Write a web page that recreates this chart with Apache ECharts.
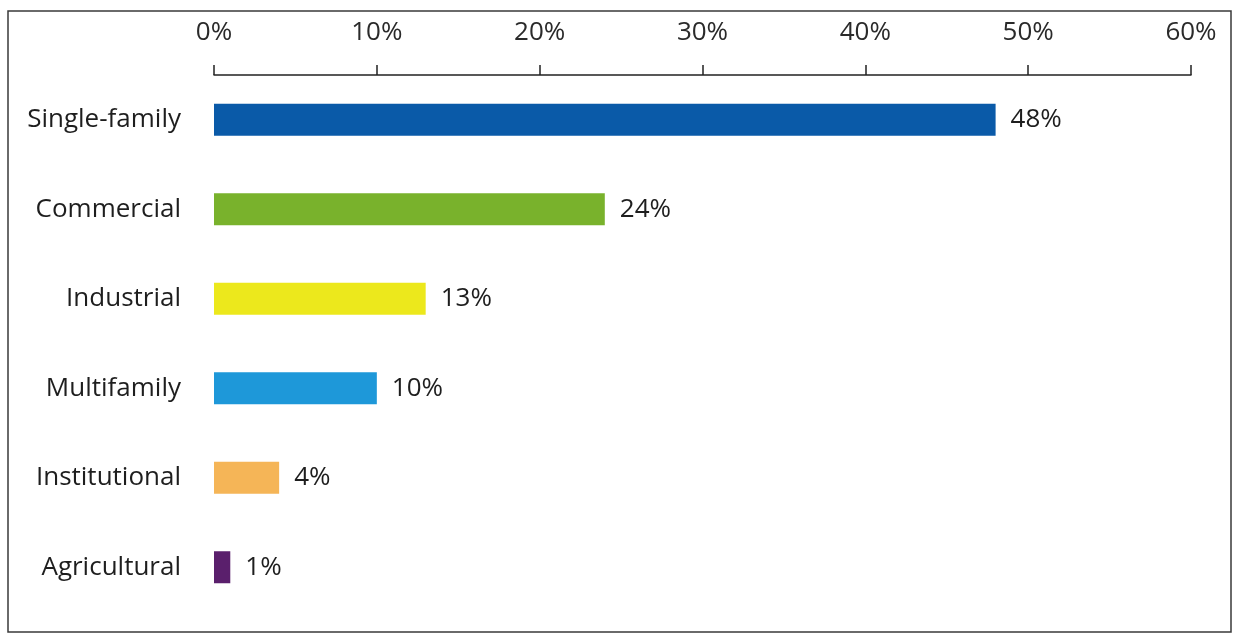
<!DOCTYPE html>
<html>
<head>
<meta charset="utf-8">
<style>
  html, body { margin: 0; padding: 0; background: #fff; }
  #chart { width: 1233px; height: 636px; }
</style>
<script src="https://cdn.jsdelivr.net/npm/echarts@6/dist/echarts.min.js"></script>
</head>
<body>
<div id="chart"></div>
<script>
// Share of land use by sector (percent)
const categories = ['Single-family', 'Commercial', 'Industrial', 'Multifamily', 'Institutional', 'Agricultural'];
const shares = [48, 24, 13, 10, 4, 1];
const barColors = ['#0a5aa8', '#79b22c', '#ece81c', '#1e98d9', '#f5b557', '#5a1f6c'];
const tickValues = [0, 10, 20, 30, 40, 50, 60];

const chart = echarts.init(document.getElementById('chart'), null, { renderer: 'canvas' });
const font = '"Open Sans", "Noto Sans", sans-serif';

chart.setOption({
  animation: false,
  backgroundColor: '#ffffff',
  graphic: [{
    type: 'rect',
    shape: { x: 8, y: 11, width: 1223, height: 621 },
    style: { fill: 'none', stroke: '#3a3a3a', lineWidth: 1.5 },
    silent: true
  }],
  grid: { left: 214, right: 42, top: 75, bottom: 24 },
  xAxis: {
    type: 'value',
    position: 'top',
    min: tickValues[0],
    max: tickValues[tickValues.length - 1],
    interval: 10,
    axisLine: { show: true, lineStyle: { color: '#222', width: 1.5 } },
    axisTick: { show: true, length: 10, lineStyle: { color: '#222', width: 1.5 } },
    axisLabel: {
      formatter: v => v + '%',
      color: '#2a2a2a',
      fontFamily: font,
      fontSize: 26,
      margin: 29
    },
    splitLine: { show: false }
  },
  yAxis: {
    type: 'category',
    inverse: true,
    data: categories,
    axisLine: { show: false },
    axisTick: { show: false },
    axisLabel: {
      color: '#1e1e1e',
      fontFamily: font,
      fontSize: 26,
      margin: 33
    }
  },
  series: [{
    type: 'bar',
    data: shares.map((v, i) => ({ value: v, itemStyle: { color: barColors[i] } })),
    barWidth: 32,
    label: {
      show: true,
      position: 'right',
      distance: 15,
      formatter: p => p.value + '%',
      color: '#1e1e1e',
      fontFamily: font,
      fontSize: 26
    }
  }]
});
</script>
</body>
</html>
